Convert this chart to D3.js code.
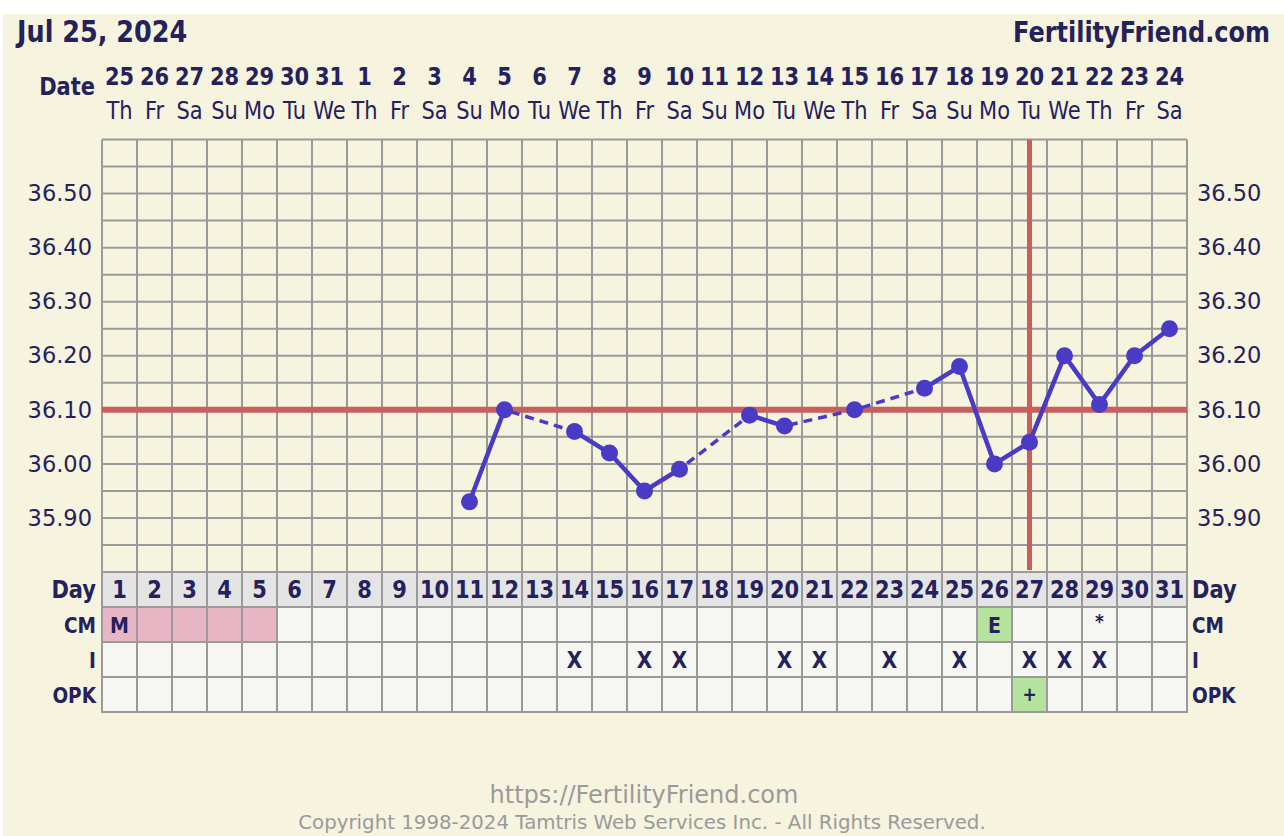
<!DOCTYPE html>
<html>
<head>
<meta charset="utf-8">
<script src="https://cdn.jsdelivr.net/npm/d3@7"></script>
<style>
    body { margin: 0; background: #fff; }
    svg { display: block; }
    text { font-family: "DejaVu Sans", Verdana, sans-serif; }
</style>
</head>
<body>
<div id="chart"></div>
<script>
const chartDate = "Jul 25, 2024";
const siteName = "FertilityFriend.com";
const footerUrl = "https://FertilityFriend.com";
const footerCopy = "Copyright 1998-2024 Tamtris Web Services Inc. - All Rights Reserved.";

const cycleDays = [1,2,3,4,5,6,7,8,9,10,11,12,13,14,15,16,17,18,19,20,21,22,23,24,25,26,27,28,29,30,31];
const dateNums = ["25","26","27","28","29","30","31","1","2","3","4","5","6","7","8","9","10","11","12","13","14","15","16","17","18","19","20","21","22","23","24"];
const weekDays = ["Th","Fr","Sa","Su","Mo","Tu","We","Th","Fr","Sa","Su","Mo","Tu","We","Th","Fr","Sa","Su","Mo","Tu","We","Th","Fr","Sa","Su","Mo","Tu","We","Th","Fr","Sa"];

// temperatures, null = no reading
const temps = [null,null,null,null,null,null,null,null,null,null,
    35.93,36.10,null,36.06,36.02,35.95,35.99,null,36.09,36.07,
    null,36.10,null,36.14,36.18,36.00,36.04,36.20,36.11,36.20,36.25];
const tempTicks = [36.50,36.40,36.30,36.20,36.10,36.00,35.90];
const tempRange = [35.80, 36.60];
const coverline = 36.10;
const ovulationDay = 27;

// table rows
const mensesDays = [1,2,3,4,5];
const cmText = ["M","","","","","","","","","","","","","","","","","","","","","","","","","E","","","*","",""];
const fertileCmDays = [26];
const intercourse = ["","","","","","","","","","","","","","X","","X","X","","","X","X","","X","","X","","X","X","X","",""];
const opkText = ["","","","","","","","","","","","","","","","","","","","","","","","","","","+","","","",""];
const positiveOpkDays = [27];

const navy = "#24215c";

function drawChart(){
    let width = 1284, height = 836;
    let left = 102, right = 1187, top = 139.5, bottom = 572, rowH = 35;

    let svg = d3.select("#chart")
        .append("svg")
        .attr("width", width)
        .attr("height", height);

    svg.append("rect")
        .attr("x", 3).attr("y", 14)
        .attr("width", width - 3).attr("height", height - 14)
        .attr("fill", "#f6f3de");

    let x = d3.scaleBand().domain(cycleDays).range([left, right]);
    let y = d3.scaleLinear().domain(tempRange).range([bottom, top]);
    let cx = d => x(d) + x.bandwidth() / 2;

    // stretched text like the original site font
    function label(g, px, py, txt, size, weight, anchor, sy){
        return g.append("text")
            .attr("transform", `translate(${px},${py}) scale(1,${sy || 1.22})`)
            .attr("text-anchor", anchor || "middle")
            .attr("font-size", size)
            .attr("font-weight", weight || "normal")
            .attr("fill", navy)
            .text(txt);
    }

    // title row
    label(svg, 17, 42, chartDate, 25.5, "bold", "start", 1.2);
    label(svg, 1270, 42, siteName, 24, "bold", "end", 1.2);

    // date header
    let header = svg.append("g");
    label(header, 95, 95, "Date", 21, "bold", "end");
    cycleDays.forEach((d, i) => {
        label(header, cx(d), 85, dateNums[i], 21, "bold");
        label(header, cx(d), 119, weekDays[i], 21, "normal");
    });

    // grid
    let grid = svg.append("g")
        .attr("stroke", "#9a9a9a")
        .attr("stroke-width", 2);
    grid.selectAll(".h")
        .data(y.ticks(16))
        .enter().append("line")
        .attr("x1", left).attr("x2", right)
        .attr("y1", d => y(d)).attr("y2", d => y(d));
    grid.selectAll(".v")
        .data(cycleDays.concat([0]))
        .enter().append("line")
        .attr("x1", d => d ? x(d) : right)
        .attr("x2", d => d ? x(d) : right)
        .attr("y1", top).attr("y2", bottom);

    // temperature axes, left and right
    let yLeft = d3.axisLeft(y).tickValues(tempTicks).tickFormat(d3.format(".2f")).tickSize(0).tickPadding(10);
    let yRight = d3.axisRight(y).tickValues(tempTicks).tickFormat(d3.format(".2f")).tickSize(0).tickPadding(10);
    [[yLeft, left], [yRight, right]].forEach(([ax, pos]) => {
        let g = svg.append("g")
            .attr("transform", `translate(${pos},0)`)
            .call(ax);
        g.select(".domain").remove();
        g.selectAll("text")
            .attr("font-family", "DejaVu Sans, Verdana, sans-serif")
            .attr("font-size", 22.5)
            .attr("fill", navy);
    });

    // coverline and ovulation line
    svg.append("line")
        .attr("x1", left).attr("x2", right)
        .attr("y1", y(coverline)).attr("y2", y(coverline))
        .attr("stroke", "#c95f5d").attr("stroke-width", 6);
    svg.append("line")
        .attr("x1", cx(ovulationDay)).attr("x2", cx(ovulationDay))
        .attr("y1", top).attr("y2", bottom - 2)
        .attr("stroke", "#c95f5d").attr("stroke-width", 5);

    // temperature line
    let points = cycleDays.map((d, i) => ({day: d, temp: temps[i]}));
    let readings = points.filter(p => p.temp !== null);

    let line = d3.line()
        .x(d => cx(d.day))
        .y(d => y(d.temp))
        .defined(d => d.temp !== null);

    // dashed across skipped days
    svg.append("path")
        .datum(readings)
        .attr("d", line)
        .attr("fill", "none")
        .attr("stroke", "#4a3bc6")
        .attr("stroke-width", 3.5)
        .attr("stroke-dasharray", "9,6");

    svg.append("path")
        .datum(points)
        .attr("d", line)
        .attr("fill", "none")
        .attr("stroke", "#4a3bc6")
        .attr("stroke-width", 4.5);

    svg.selectAll(".pt")
        .data(readings)
        .enter().append("circle")
        .attr("cx", d => cx(d.day))
        .attr("cy", d => y(d.temp))
        .attr("r", 8.5)
        .attr("fill", "#4a3bc6");

    // bottom table
    let table = svg.append("g");
    let rows = ["Day", "CM", "I", "OPK"];
    rows.forEach((r, ri) => {
        let ry = bottom + ri * rowH;
        table.selectAll(".c" + ri)
            .data(cycleDays)
            .enter().append("rect")
            .attr("x", d => x(d))
            .attr("y", ry)
            .attr("width", x.bandwidth())
            .attr("height", rowH)
            .attr("fill", d => {
                if (ri === 0) return "#e4e4e4";
                if (ri === 1 && mensesDays.includes(d)) return "#e8b5c4";
                if (ri === 1 && fertileCmDays.includes(d)) return "#b5e29c";
                if (ri === 3 && positiveOpkDays.includes(d)) return "#b5e29c";
                return "#f6f6f2";
            })
            .attr("stroke", "#9a9a9a")
            .attr("stroke-width", 2);

        let size = ri === 0 ? 21 : 18.5;
        label(table, 96, ry + 26, r, size, "bold", "end", ri === 0 ? 1.22 : 1.15);
        label(table, 1192, ry + 26, r, size, "bold", "start", ri === 0 ? 1.22 : 1.15);
    });

    cycleDays.forEach((d, i) => {
        label(table, cx(d), bottom + 26, d, 21, "bold");
        if (cmText[i]) label(table, cx(d), bottom + rowH + (cmText[i] === "*" ? 21 : 26), cmText[i], cmText[i] === "*" ? 17 : 19, "bold", "middle", 1.15);
        if (intercourse[i]) label(table, cx(d), bottom + 2 * rowH + 26, intercourse[i], 20, "bold", "middle", 1.15);
        if (opkText[i]) label(table, cx(d), bottom + 3 * rowH + 24, opkText[i], 17, "bold", "middle", 1.15);
    });

    // footer
    svg.append("text")
        .attr("x", 644).attr("y", 803)
        .attr("text-anchor", "middle")
        .attr("font-size", 24)
        .attr("fill", "#9a9a9a")
        .text(footerUrl);
    svg.append("text")
        .attr("x", 642).attr("y", 829)
        .attr("text-anchor", "middle")
        .attr("font-size", 19.8)
        .attr("fill", "#9a9a9a")
        .text(footerCopy);
}

drawChart();
</script>
</body>
</html>
